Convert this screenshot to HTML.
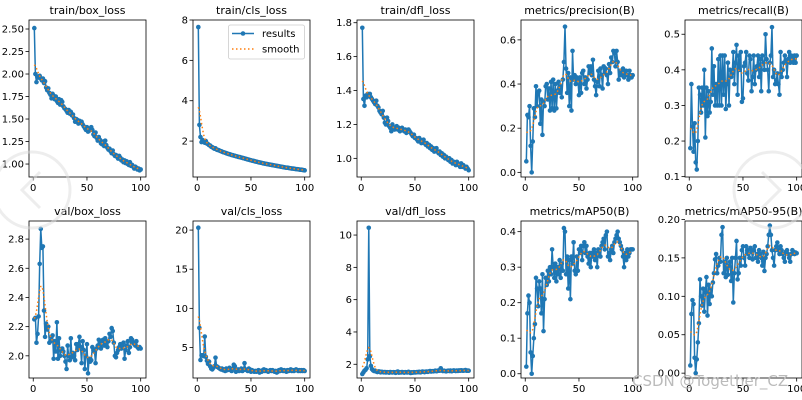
<!DOCTYPE html>
<html><head><meta charset="utf-8"><style>
body{margin:0;background:#fff;}
svg{display:block;font-family:"DejaVu Sans","Liberation Sans",sans-serif;}
</style></head><body>
<svg id="fig" width="802" height="400" viewBox="0 0 802 400" xmlns="http://www.w3.org/2000/svg"></svg>
<script>
const epochs=[];for(let i=1;i<=100;i++)epochs.push(i);
const trainBox=[2.51,2.00,1.91,1.97,1.96,1.98,1.95,1.93,1.95,1.90,1.92,1.85,1.82,1.84,1.79,1.77,1.73,1.78,1.76,1.72,1.75,1.70,1.68,1.72,1.66,1.71,1.69,1.64,1.62,1.61,1.59,1.57,1.60,1.56,1.58,1.54,1.55,1.51,1.47,1.50,1.49,1.45,1.48,1.46,1.47,1.44,1.42,1.40,1.38,1.41,1.36,1.37,1.39,1.41,1.38,1.33,1.31,1.35,1.29,1.26,1.30,1.27,1.23,1.22,1.25,1.20,1.26,1.21,1.18,1.16,1.17,1.14,1.12,1.15,1.11,1.09,1.10,1.08,1.06,1.09,1.07,1.04,1.05,1.02,1.04,1.01,1.03,1.00,0.99,1.02,0.98,0.99,0.97,0.95,0.97,0.96,0.94,0.95,0.93,0.94];
const trainCls=[7.65,2.80,2.20,1.95,2.05,1.97,1.92,2.00,1.88,1.85,1.80,1.78,1.72,1.70,1.66,1.62,1.64,1.58,1.56,1.55,1.52,1.50,1.48,1.45,1.44,1.42,1.40,1.38,1.36,1.35,1.33,1.31,1.30,1.28,1.27,1.25,1.24,1.22,1.21,1.20,1.18,1.17,1.15,1.14,1.12,1.11,1.09,1.08,1.06,1.05,1.03,1.02,1.01,0.99,0.98,0.97,0.95,0.94,0.93,0.92,0.90,0.89,0.88,0.87,0.86,0.85,0.84,0.83,0.82,0.81,0.80,0.79,0.78,0.77,0.76,0.75,0.74,0.73,0.72,0.71,0.70,0.69,0.68,0.68,0.67,0.66,0.65,0.64,0.64,0.63,0.62,0.61,0.61,0.60,0.59,0.58,0.58,0.57,0.56,0.55];
const trainDfl=[1.77,1.35,1.31,1.37,1.36,1.38,1.37,1.38,1.36,1.35,1.34,1.33,1.32,1.34,1.31,1.30,1.28,1.27,1.26,1.28,1.24,1.21,1.20,1.24,1.22,1.19,1.18,1.16,1.20,1.18,1.17,1.18,1.19,1.17,1.18,1.16,1.17,1.18,1.17,1.16,1.17,1.15,1.16,1.17,1.16,1.15,1.14,1.13,1.14,1.12,1.12,1.11,1.10,1.12,1.11,1.09,1.10,1.11,1.09,1.08,1.09,1.07,1.08,1.06,1.07,1.05,1.06,1.04,1.05,1.06,1.04,1.03,1.04,1.02,1.03,1.01,1.02,1.00,1.01,1.00,0.99,1.00,0.98,0.99,0.97,0.98,0.97,0.96,0.98,0.97,0.96,0.95,0.97,0.95,0.96,0.95,0.94,0.95,0.94,0.93];
const precision=[0.05,0.26,0.25,0.30,0.12,0.00,0.14,0.29,0.25,0.39,0.30,0.36,0.37,0.22,0.33,0.17,0.32,0.30,0.39,0.40,0.33,0.38,0.28,0.41,0.29,0.42,0.28,0.40,0.29,0.37,0.41,0.36,0.39,0.34,0.42,0.50,0.66,0.47,0.36,0.45,0.30,0.43,0.28,0.55,0.42,0.44,0.40,0.43,0.42,0.35,0.43,0.36,0.45,0.46,0.40,0.43,0.38,0.42,0.48,0.45,0.48,0.44,0.51,0.42,0.39,0.35,0.41,0.46,0.39,0.47,0.44,0.38,0.48,0.45,0.47,0.44,0.40,0.49,0.45,0.52,0.50,0.55,0.54,0.48,0.55,0.50,0.42,0.46,0.44,0.45,0.47,0.43,0.45,0.46,0.44,0.42,0.46,0.44,0.43,0.44];
const recall=[0.18,0.36,0.24,0.17,0.25,0.14,0.12,0.20,0.35,0.33,0.28,0.35,0.30,0.40,0.21,0.35,0.27,0.34,0.28,0.31,0.46,0.33,0.41,0.30,0.36,0.30,0.43,0.30,0.44,0.30,0.44,0.33,0.44,0.29,0.36,0.42,0.30,0.40,0.38,0.39,0.45,0.36,0.42,0.47,0.33,0.44,0.40,0.45,0.31,0.32,0.41,0.42,0.45,0.39,0.37,0.44,0.43,0.34,0.38,0.44,0.36,0.40,0.41,0.44,0.38,0.43,0.34,0.44,0.42,0.40,0.50,0.43,0.40,0.34,0.42,0.44,0.52,0.38,0.40,0.36,0.37,0.39,0.36,0.33,0.45,0.38,0.40,0.42,0.44,0.42,0.38,0.43,0.45,0.42,0.44,0.43,0.42,0.44,0.42,0.44];
const valBox=[2.25,2.26,2.09,2.15,2.27,2.63,2.87,2.74,2.75,2.31,2.13,2.22,2.18,2.20,2.09,2.10,2.13,2.14,1.98,2.10,2.03,2.23,1.98,2.12,2.00,2.04,2.05,2.03,2.00,1.96,1.91,2.07,2.00,1.97,2.12,1.99,2.02,2.00,1.97,2.08,2.04,2.08,2.13,2.06,1.95,2.10,2.04,1.91,2.00,2.08,1.88,1.98,1.96,1.97,2.06,2.04,2.03,1.95,2.05,2.07,2.11,2.09,2.05,2.10,2.11,2.07,2.12,2.08,2.06,2.10,2.15,2.13,2.19,2.17,2.09,2.00,1.99,2.02,2.04,2.06,2.08,2.05,2.07,2.09,1.98,2.04,2.07,2.10,2.02,2.06,2.12,2.11,2.09,2.08,2.07,2.10,2.06,2.05,2.06,2.05];
const valCls=[20.3,7.5,3.4,4.0,4.0,3.9,6.4,3.8,3.3,2.9,3.2,2.6,2.3,2.2,2.4,2.6,3.7,2.6,2.5,2.4,2.3,2.2,2.3,2.1,2.2,2.0,2.3,2.1,2.2,2.4,2.1,2.0,2.3,2.8,2.6,1.9,2.1,2.2,2.0,2.1,2.3,2.0,2.1,3.0,2.2,2.1,2.0,2.3,2.2,1.9,2.1,2.0,1.9,2.0,1.9,2.0,2.1,1.8,2.0,1.9,2.1,2.2,2.0,2.1,2.0,1.9,2.0,2.1,2.0,2.1,2.0,1.9,2.0,1.8,1.9,2.1,2.0,2.2,2.1,2.0,2.1,2.0,1.9,2.1,2.0,2.1,2.2,2.0,2.1,2.0,2.1,2.2,2.1,2.0,2.1,2.0,2.1,2.0,2.1,2.0];
const valDfl=[1.40,1.50,1.60,1.65,1.75,2.30,10.45,2.50,1.90,1.70,1.62,1.58,1.60,1.55,1.52,1.56,1.55,1.50,1.53,1.52,1.50,1.52,1.49,1.51,1.50,1.48,1.52,1.50,1.49,1.51,1.50,1.47,1.52,1.55,1.48,1.50,1.49,1.52,1.50,1.48,1.51,1.50,1.49,1.53,1.50,1.46,1.50,1.48,1.51,1.49,1.50,1.52,1.51,1.53,1.50,1.52,1.55,1.53,1.51,1.54,1.55,1.53,1.56,1.58,1.55,1.57,1.56,1.58,1.60,1.57,1.59,1.62,1.60,1.75,1.62,1.58,1.60,1.58,1.56,1.59,1.60,1.58,1.61,1.57,1.59,1.62,1.60,1.58,1.61,1.59,1.62,1.60,1.63,1.61,1.60,1.62,1.64,1.60,1.61,1.60];
const map50=[0.02,0.17,0.22,0.20,0.06,0.00,0.05,0.10,0.14,0.27,0.24,0.19,0.26,0.24,0.17,0.28,0.12,0.21,0.27,0.25,0.29,0.26,0.30,0.28,0.35,0.30,0.27,0.31,0.26,0.30,0.28,0.32,0.27,0.31,0.29,0.41,0.40,0.28,0.33,0.24,0.32,0.21,0.33,0.31,0.37,0.29,0.28,0.33,0.29,0.35,0.34,0.36,0.32,0.36,0.37,0.34,0.36,0.33,0.31,0.34,0.30,0.34,0.33,0.35,0.32,0.34,0.30,0.35,0.34,0.33,0.36,0.37,0.38,0.35,0.39,0.40,0.33,0.34,0.32,0.35,0.36,0.34,0.37,0.38,0.39,0.40,0.38,0.37,0.36,0.35,0.33,0.30,0.34,0.32,0.35,0.33,0.34,0.35,0.35,0.35];
const map5095=[0.010,0.077,0.095,0.090,0.020,0.000,0.018,0.040,0.065,0.122,0.100,0.088,0.110,0.080,0.105,0.125,0.075,0.115,0.090,0.110,0.100,0.118,0.130,0.148,0.155,0.130,0.140,0.150,0.145,0.180,0.190,0.130,0.145,0.125,0.150,0.128,0.140,0.145,0.120,0.150,0.092,0.130,0.150,0.172,0.122,0.130,0.150,0.140,0.160,0.165,0.150,0.140,0.165,0.160,0.155,0.150,0.163,0.158,0.148,0.160,0.165,0.150,0.155,0.145,0.160,0.155,0.150,0.140,0.158,0.133,0.150,0.155,0.165,0.180,0.192,0.180,0.160,0.150,0.140,0.160,0.165,0.170,0.160,0.155,0.165,0.160,0.155,0.150,0.145,0.158,0.160,0.155,0.150,0.145,0.155,0.160,0.158,0.155,0.157,0.156];
const xTicks=[0,50,100];
const titles=["train/box_loss","train/cls_loss","train/dfl_loss","metrics/precision(B)","metrics/recall(B)","val/box_loss","val/cls_loss","val/dfl_loss","metrics/mAP50(B)","metrics/mAP50-95(B)"];
const series=[trainBox,trainCls,trainDfl,precision,recall,valBox,valCls,valDfl,map50,map5095];
const yLims=[[0.856,2.6],[0.22,8.0],[0.89,1.816],[-0.021,0.69],[0.099,0.54],[1.848,2.924],[1.1,21.16],[1.15,10.87],[-0.012,0.43],[-0.0063,0.198]];
const yTicks=[["1.00","1.25","1.50","1.75","2.00","2.25","2.50"],["2","4","6","8"],["1.0","1.2","1.4","1.6","1.8"],["0.0","0.2","0.4","0.6"],["0.1","0.2","0.3","0.4","0.5"],["2.0","2.2","2.4","2.6","2.8"],["5","10","15","20"],["2","4","6","8","10"],["0.0","0.1","0.2","0.3","0.4"],["0.00","0.05","0.10","0.15","0.20"]];
const NS="http://www.w3.org/2000/svg";
const svg=document.getElementById('fig');
function mk(tag,attrs,parent){const e=document.createElementNS(NS,tag);for(const k in attrs)e.setAttribute(k,attrs[k]);(parent||svg).appendChild(e);return e;}
function gsmooth(y,s){const r=Math.ceil(4*s),w=[];let t=0;for(let k=-r;k<=r;k++){const v=Math.exp(-k*k/(2*s*s));w.push(v);t+=v;}
 const n=y.length,out=[];for(let i=0;i<n;i++){let a=0;for(let k=-r;k<=r;k++){let j=i+k;while(j<0||j>=n){if(j<0)j=-j-1;if(j>=n)j=2*n-j-1;}a+=w[k+r]*y[j];}out.push(a/t);}return out;}
const colX=[29,193,357,521,685],W=117;
const rowY=[20,221],H=157;
const xMin=-3.95,xMax=104.95;
for(let p=0;p<10;p++){
 const L=colX[p%5],T=rowY[Math.floor(p/5)];
 const [y0,y1]=yLims[p];
 const sx=v=>L+(v-xMin)/(xMax-xMin)*W;
 const sy=v=>T+H-(v-y0)/(y1-y0)*H;
 const g=mk('g',{});
 
 
 const cp=mk('clipPath',{id:'c'+p},g);mk('rect',{x:L,y:T,width:W,height:H},cp);
 const t=mk('text',{x:L+W/2,y:T-6,'text-anchor':'middle','font-size':'11',fill:'#000'},g);t.textContent=titles[p];
 
 
 xTicks.forEach(v=>{const x=sx(v);mk('line',{x1:x,x2:x,y1:T+H,y2:T+H+3.5,stroke:'#000','stroke-width':0.8},g);
  const tx=mk('text',{x:x,y:T+H+14,'text-anchor':'middle','font-size':'10',fill:'#000'},g);tx.textContent=v;
  
  });
 yTicks[p].forEach(s=>{const y=sy(parseFloat(s));mk('line',{x1:L-3.5,x2:L,y1:y,y2:y,stroke:'#000','stroke-width':0.8},g);
  const ty=mk('text',{x:L-5,y:y+3.5,'text-anchor':'end','font-size':'10',fill:'#000'},g);ty.textContent=s;
  
  });
 const data=series[p];
 const pg=mk('g',{'clip-path':'url(#c'+p+')'},g);
 const pts=data.map((v,i)=>sx(epochs[i]).toFixed(2)+','+sy(v).toFixed(2)).join(' ');
 const ln=mk('polyline',{points:pts,fill:'none',stroke:'#1f77b4','stroke-width':1.5,'stroke-linejoin':'round'},pg);
 
 
 data.forEach((v,i)=>{const c=mk('circle',{cx:sx(epochs[i]),cy:sy(v),r:2.3,fill:'#1f77b4'},pg);
  
  });
 const sm=gsmooth(data,3);
 const sl=mk('polyline',{points:sm.map((v,i)=>sx(epochs[i]).toFixed(2)+','+sy(v).toFixed(2)).join(' '),fill:'none',stroke:'#ff7f0e','stroke-width':1.5,'stroke-dasharray':'1.5,2.5'},pg);
 
 
 mk('rect',{x:L,y:T,width:W,height:H,fill:'none',stroke:'#000','stroke-width':0.8},g);
}
// legend in train/cls_loss
const lg=mk('g',{});


mk('rect',{x:228.5,y:25,width:76,height:34,rx:2,fill:'#fff','fill-opacity':0.8,stroke:'#ccc','stroke-width':0.8},lg);
mk('line',{x1:232,x2:254,y1:33.5,y2:33.5,stroke:'#1f77b4','stroke-width':1.5},lg);
mk('circle',{cx:243,cy:33.5,r:2.3,fill:'#1f77b4'},lg);
const l1=mk('text',{x:262,y:37,'font-size':'10',fill:'#000'},lg);l1.textContent='results';
mk('line',{x1:232,x2:254,y1:49,y2:49,stroke:'#ff7f0e','stroke-width':1.5,'stroke-dasharray':'1.5,2.5'},lg);
const l2=mk('text',{x:262,y:52.5,'font-size':'10',fill:'#000'},lg);l2.textContent='smooth';
// watermarks
const wm=mk('g',{opacity:0.5});


mk('circle',{cx:32,cy:190,r:38,fill:'none',stroke:'#ddd','stroke-width':3},wm);
mk('polyline',{points:'40,172 22,190 40,208',fill:'none',stroke:'#ddd','stroke-width':3},wm);
mk('circle',{cx:772,cy:190,r:38,fill:'none',stroke:'#ddd','stroke-width':3},wm);
mk('polyline',{points:'762,172 780,190 762,208',fill:'none',stroke:'#ddd','stroke-width':3},wm);
const wt=mk('text',{x:632,y:386,'font-size':'15',fill:'#bbb'},svg);wt.textContent='CSDN @Together_CZ';


</script>
</body></html>
